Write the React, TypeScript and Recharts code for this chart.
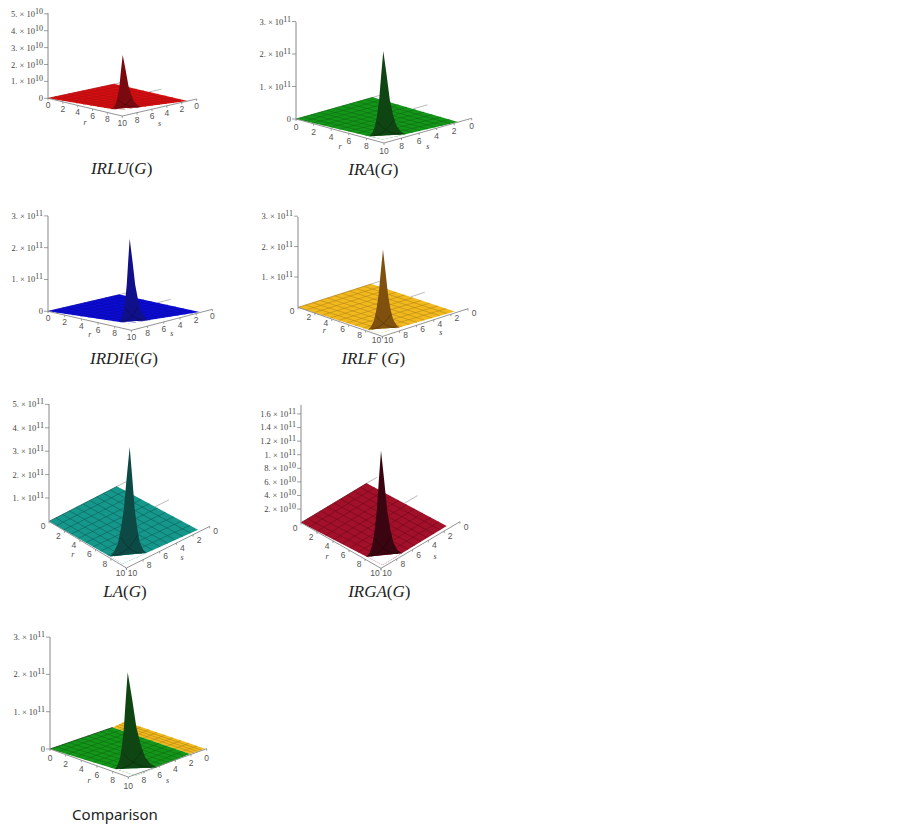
import React from 'react';
import { ComposedChart, Area, Line, XAxis, YAxis } from 'recharts';

type Pt = { x: number; y: number };

// tick labels
const rTicks = [0, 2, 4, 6, 8, 10];
const sTicksFull = [10, 8, 6, 4, 2, 0];
const sTicksShort = [8, 6, 4, 2, 0];
const irluTicks = [0, 1e10, 2e10, 3e10, 4e10, 5e10];
const threeTicks = [0, 1e11, 2e11, 3e11];
const irlfTicks = [1e11, 2e11, 3e11];
const laTicks = [1e11, 2e11, 3e11, 4e11, 5e11];
const irgaTicks = [2e10, 4e10, 6e10, 8e10, 1e11, 1.2e11, 1.4e11, 1.6e11];

// height of the surface along its front edges, from the floor up to the peak
const edgeSteps = [0, 0.2, 0.4, 0.55, 0.7, 0.85, 1];
const irluPeak = [0, 0.11e10, 0.36e10, 0.76e10, 1.32e10, 2.28e10, 3.15e10];
const iraPeak = [0, 0.09e11, 0.29e11, 0.62e11, 1.09e11, 1.87e11, 2.6e11];
const irdiePeak = [0, 0.12e11, 0.34e11, 0.68e11, 1.14e11, 1.9e11, 2.6e11];
const irlfPeak = [0, 0.09e11, 0.29e11, 0.62e11, 1.09e11, 1.87e11, 2.6e11];
const laPeak = [0, 0.16e11, 0.5e11, 1.1e11, 1.93e11, 3.3e11, 4.6e11];
const irgaPeak = [0, 0.05e11, 0.17e11, 0.37e11, 0.65e11, 1.11e11, 1.54e11];
const comparisonPeak = [0, 0.09e11, 0.29e11, 0.62e11, 1.09e11, 1.87e11, 2.58e11];
const creaseShare = [0, 0.01, 0.03, 0.05, 0.08, 0.12, 0.17];

const AXIS_W = 46;
const PLOT_W = 190;

// camera of each plot: where the floor corners land on the page
const panels: any[] = [
  {
    title: <><i>IRLU</i>(<i>G</i>)</>, titleAt: [121.6, 169],
    ticks: irluTicks, unit: 1e10, pxPerUnit: 16.9, axisX: 48.3, zeroY: 98.3, topY: 13, peak: irluPeak,
    back: [115, 84], right: [188, 101], end: [197, 99], corner: [122.5, 116], f1: [112, 109], f2: [142, 107], apexX: 123,
    fill: '#d60f12', mesh: '#b00c0e', peakFill: '#7a0a10', crease: '#4c0508',
    sTicks: sTicksShort, rOff: [0, 7], sOff: [0, 7], rName: [0, 16], sName: [0, 16],
  },
  {
    title: <><i>IRA</i>(<i>G</i>)</>, titleAt: [373.3, 170],
    ticks: threeTicks, unit: 1e11, pxPerUnit: 32.5, axisX: 296, zeroY: 118.7, topY: 21.7, peak: iraPeak,
    back: [373, 97], right: [458, 121.7], end: [471.7, 118], corner: [384, 142.7], f1: [369.3, 136], f2: [405, 134], apexX: 383.3,
    fill: '#14961a', mesh: '#0c6a10', peakFill: '#0f4512', crease: '#082a0a',
    sTicks: sTicksShort, rOff: [0, 8], sOff: [0, 8], rName: [0, 16], sName: [0, 16],
  },
  {
    title: <><i>IRDIE</i>(<i>G</i>)</>, titleAt: [124, 359],
    ticks: threeTicks, unit: 1e11, pxPerUnit: 31.8, axisX: 48.3, zeroY: 311, topY: 215.7, peak: irdiePeak,
    back: [120, 294.3], right: [200, 311.7], end: [212.7, 309], corner: [131.7, 330], f1: [120, 321.7], f2: [148.3, 320], apexX: 130,
    fill: '#0c0cd4', mesh: '#0909ae', peakFill: '#10108a', crease: '#0a0a58',
    sTicks: sTicksShort, rOff: [0, 7], sOff: [0, 7], rName: [0, 14], sName: [0, 14],
  },
  {
    title: <><i>IRLF</i> (<i>G</i>)</>, titleAt: [373.3, 359],
    ticks: irlfTicks, unit: 1e11, pxPerUnit: 30.4, axisX: 298.3, zeroY: 307.7, topY: 217.3, peak: irlfPeak,
    back: [371.7, 284.3], right: [455, 311.7], end: [468.3, 309], corner: [382.7, 336.7], f1: [368.3, 330], f2: [400, 327.7], apexX: 383.3,
    fill: '#f2b91e', mesh: '#b08414', peakFill: '#80500f', crease: '#523208',
    sTicks: sTicksFull, rOff: [-6, 4], sOff: [6, 4], rName: [-16, 9.5], sName: [15.5, 10],
  },
  {
    title: <><i>LA</i>(<i>G</i>)</>, titleAt: [125, 591.7],
    ticks: laTicks, unit: 1e11, pxPerUnit: 23.4, axisX: 49.3, zeroY: 521.7, topY: 404.3, peak: laPeak,
    back: [117.3, 486.7], right: [198.3, 530], end: [210, 526.7], corner: [126.7, 568.3], f1: [110, 556.7], f2: [146.7, 553.3], apexX: 130,
    fill: '#16978c', mesh: '#0c5c55', peakFill: '#0d4a45', crease: '#072e2a',
    sTicks: sTicksFull, rOff: [-6, 5], sOff: [6, 5], rName: [-15, 10], sName: [14, 10.5],
  },
  {
    title: <><i>IRGA</i>(<i>G</i>)</>, titleAt: [379.3, 591.7],
    ticks: irgaTicks, unit: 1e10, pxPerUnit: 6.8, axisX: 301, zeroY: 522.7, topY: 405, peak: irgaPeak,
    back: [366.7, 483.3], right: [446.7, 526], end: [460, 521.7], corner: [381, 568.3], f1: [366.7, 556.7], f2: [401.7, 553.3], apexX: 381,
    fill: '#a3102a', mesh: '#6a0a1a', peakFill: '#3a0510', crease: '#220208',
    sTicks: sTicksFull, rOff: [-6, 5], sOff: [6, 5], rName: [-14, 11.7], sName: [14.5, 11.7],
  },
  {
    title: <span style={{ fontFamily: '"Noto Sans"', fontSize: 15 }}>Comparison</span>, titleAt: [115, 814.3],
    ticks: threeTicks, unit: 1e11, pxPerUnit: 37.3, axisX: 50, zeroY: 749.3, topY: 637.3, peak: comparisonPeak,
    back: [112.7, 727.7], right: [190, 754.3], end: [206.7, 749], corner: [128.3, 777.3], f1: [115, 769.3], f2: [156.7, 767.7], apexX: 127.7,
    band: { back: [125, 721.7], right: [205, 749], fill: '#f2b91e', mesh: '#b08414' },
    fill: '#14961a', mesh: '#0c6a10', peakFill: '#0f4512', crease: '#082a0a', edge: '#0a3a0c', noStubs: true,
    sTicks: sTicksShort, rOff: [0, 9], sOff: [0, 9], rName: [0, 18], sName: [0, 18],
  },
];

const pt = (a: number[]): Pt => ({ x: a[0], y: a[1] });
const mix = (a: Pt, b: Pt, t: number): Pt => ({ x: a.x + (b.x - a.x) * t, y: a.y + (b.y - a.y) * t });

// where the line a-b meets the line c-d
const meet = (a: Pt, b: Pt, c: Pt, d: Pt): Pt => {
  const d1 = { x: b.x - a.x, y: b.y - a.y };
  const d2 = { x: d.x - c.x, y: d.y - c.y };
  const t = ((c.x - a.x) * d2.y - (c.y - a.y) * d2.x) / (d1.x * d2.y - d1.y * d2.x);
  return mix(a, b, t);
};

// upper and lower outline of a convex polygon, for a ranged Area
const outline = (poly: Pt[]) => {
  const xs = Array.from(new Set(poly.map((p) => p.x))).sort((a, b) => a - b);
  return xs.map((x) => {
    const ys: number[] = [];
    poly.forEach((p, i) => {
      const q = poly[(i + 1) % poly.length];
      if (p.x === q.x) {
        if (p.x === x) ys.push(p.y, q.y);
      } else if (x >= Math.min(p.x, q.x) && x <= Math.max(p.x, q.x)) {
        ys.push(p.y + ((x - p.x) / (q.x - p.x)) * (q.y - p.y));
      }
    });
    return { x, low: Math.max(...ys), high: Math.min(...ys) };
  });
};

const formatTick = (v: number) => {
  const exp = Math.floor(Math.log10(v) + 1e-9);
  const m = Math.round((v / Math.pow(10, exp)) * 10) / 10;
  return { mantissa: Number.isInteger(m) ? `${m}.` : `${m}`, exp };
};

const YTick = ({ x, y, payload }: any) => {
  if (payload.value === 0) {
    return <text x={x} y={y + 3} textAnchor="end" fontSize={8.5} fontFamily="Liberation Serif" fill="#444">0</text>;
  }
  const { mantissa, exp } = formatTick(payload.value);
  return (
    <text x={x} y={y + 3} textAnchor="end" fontSize={8.5} fontFamily="Liberation Serif" fill="#444">
      {`${mantissa} × 10`}
      <tspan dy={-3} fontSize={8}>{exp}</tspan>
    </text>
  );
};

const AxisMark = ({ cx, cy, payload, dx, dy }: any) => (
  <g>
    <line x1={cx} y1={cy} x2={cx} y2={cy + 2} stroke="#777" strokeWidth={0.7} />
    <text x={cx + dx} y={cy + dy + 3} textAnchor="middle" fontSize={8.5} fontFamily="Liberation Sans" fill="#555">{payload.tick}</text>
  </g>
);

const AxisName = ({ cx, cy, payload, dx, dy }: any) => (
  <text x={cx + dx} y={cy + dy + 2} textAnchor="middle" fontSize={8} fontStyle="italic" fontFamily="Liberation Serif" fill="#444">{payload.name}</text>
);

const Plot = ({ p }: { p: any }) => {
  const bottomY = p.corner[1] + 24;
  const chartTop = p.topY - 8;
  const height = bottomY - chartTop;

  const toData = (q: Pt) => ({ x: q.x - p.axisX, y: ((p.zeroY - q.y) / p.pxPerUnit) * p.unit });
  const domainTop = ((p.zeroY - chartTop) / p.pxPerUnit) * p.unit;
  const domainBottom = ((p.zeroY - bottomY) / p.pxPerUnit) * p.unit;

  const L = pt([p.axisX, p.zeroY]);
  const B = pt(p.back);
  const R = pt(p.right);
  const E = pt(p.end);
  const A = pt(p.corner);
  const F1 = pt(p.f1);
  const F2 = pt(p.f2);
  const front = meet(L, F1, R, F2);

  const fillData = (poly: Pt[]) =>
    outline(poly).map((o) => ({ x: o.x - p.axisX, band: [toData({ x: o.x, y: o.low }).y, toData({ x: o.x, y: o.high }).y] }));

  const seg = (key: string, pts: Pt[], stroke: string, width: number, zIndex: number) => (
    <Line key={key} data={pts.map(toData)} dataKey="y" stroke={stroke} strokeWidth={width} dot={false} isAnimationActive={false} zIndex={zIndex} />
  );

  const meshLines = (pre: string, a: Pt, b: Pt, c: Pt, d: Pt, rows: number, cols: number, stroke: string, zIndex: number) => {
    const out: any[] = [];
    for (let i = 1; i < rows; i++) out.push(seg(`${pre}r${i}`, [mix(a, b, i / rows), mix(d, c, i / rows)], stroke, 0.55, zIndex));
    for (let j = 1; j < cols; j++) out.push(seg(`${pre}c${j}`, [mix(b, c, j / cols), mix(a, d, j / cols)], stroke, 0.55, zIndex));
    return out;
  };

  // the two stubs of the box that stick out behind the floor
  const stubLen = Math.hypot(E.x - A.x, E.y - A.y);
  const stubDir = { x: (E.x - A.x) / stubLen, y: (E.y - A.y) / stubLen };
  const backLen = Math.hypot(R.x - B.x, R.y - B.y);
  const stub = (at: number, share: number) => {
    const s = mix(B, R, at);
    return [s, { x: s.x + stubDir.x * backLen * share, y: s.y + stubDir.y * backLen * share }];
  };

  // peak outline, built from the heights read along the two front edges
  const baseY = (x: number) => F1.y + ((x - F1.x) / (F2.x - F1.x)) * (F2.y - F1.y);
  const leftSide = edgeSteps.map((t, i) => ({ x: F1.x + (p.apexX - F1.x) * t, z: p.peak[i] }));
  const rightSide = edgeSteps.map((t, i) => ({ x: F2.x + (p.apexX - F2.x) * t, z: p.peak[i] })).reverse().slice(1);
  const peakData = [...leftSide, ...rightSide].map((q) => {
    const base = toData({ x: q.x, y: baseY(q.x) });
    return { x: base.x, band: [base.y, base.y + q.z] };
  });
  const top = p.peak[p.peak.length - 1];
  const crease = (from: number, to: number) =>
    edgeSteps.map((t, i) => {
      const x = from + (to - from) * t;
      const base = toData({ x, y: baseY(x) });
      return { x: base.x, y: base.y + creaseShare[i] * top };
    });
  const width = F2.x - F1.x;

  const rMarks = rTicks.map((t) => ({ ...toData(mix(L, A, t / 10)), tick: t }));
  const sMarks = p.sTicks.map((t: number) => ({ ...toData(mix(E, A, t / 10)), tick: t }));

  return (
    <div style={{ position: 'absolute', left: p.axisX - AXIS_W, top: chartTop }}>
      <ComposedChart width={AXIS_W + PLOT_W} height={height} margin={{ top: 0, right: 0, bottom: 0, left: 0 }}>
        <XAxis type="number" dataKey="x" domain={[0, PLOT_W]} hide />
        <YAxis
          type="number"
          width={AXIS_W}
          domain={[domainBottom, domainTop]}
          ticks={p.ticks}
          interval={0}
          axisLine={false}
          tickSize={4}
          tickMargin={1}
          tickLine={{ stroke: '#777', strokeWidth: 0.7 }}
          tick={<YTick />}
        />

        {!p.noStubs && seg('stub1', stub(0, 0.13), '#aaa', 0.8, 50)}
        {!p.noStubs && seg('stub2', stub(0.47, 0.17), '#aaa', 0.8, 50)}

        {p.band && <Area data={fillData([B, pt(p.band.back), pt(p.band.right), R])} dataKey="band" fill={p.band.fill} fillOpacity={1} stroke="none" isAnimationActive={false} zIndex={60} />}
        {p.band && meshLines('band', B, pt(p.band.back), pt(p.band.right), R, 4, 10, p.band.mesh, 70)}

        <Area data={fillData([L, B, R, front])} dataKey="band" fill={p.fill} fillOpacity={1} stroke="none" isAnimationActive={false} zIndex={100} />
        {meshLines('floor', L, B, R, front, 10, 10, p.mesh, 200)}
        {seg('edgeTop', [L, B], p.edge || p.mesh, 0.8, 200)}
        <Area data={fillData([F1, F2, front])} dataKey="band" fill="#fff" fillOpacity={1} stroke="none" isAnimationActive={false} zIndex={300} />

        <Line data={[toData(L), { x: 0, y: ((p.zeroY - p.topY) / p.pxPerUnit) * p.unit }]} dataKey="y" stroke="#888" strokeWidth={1} dot={false} isAnimationActive={false} zIndex={400} />
        <Line data={rMarks} dataKey="y" stroke="#888" strokeWidth={0.9} isAnimationActive={false} zIndex={400} dot={(d: any) => <AxisMark key={`r${d.index}`} {...d} dx={p.rOff[0]} dy={p.rOff[1]} />} />
        <Line data={[toData(E), toData(A)]} dataKey="y" stroke="#888" strokeWidth={0.9} dot={false} isAnimationActive={false} zIndex={400} />
        <Line data={sMarks} dataKey="y" stroke="none" isAnimationActive={false} zIndex={400} dot={(d: any) => <AxisMark key={`s${d.index}`} {...d} dx={p.sOff[0]} dy={p.sOff[1]} />} />
        <Line data={[{ ...toData(mix(L, A, 0.5)), name: 'r' }]} dataKey="y" stroke="none" isAnimationActive={false} zIndex={400} dot={(d: any) => <AxisName key="rn" {...d} dx={p.rName[0]} dy={p.rName[1]} />} />
        <Line data={[{ ...toData(mix(E, A, 0.5)), name: 's' }]} dataKey="y" stroke="none" isAnimationActive={false} zIndex={400} dot={(d: any) => <AxisName key="sn" {...d} dx={p.sName[0]} dy={p.sName[1]} />} />

        <Area data={peakData} dataKey="band" fill={p.peakFill} fillOpacity={1} stroke="none" isAnimationActive={false} zIndex={500} />
        <Line data={crease(F1.x + width * 0.12, p.apexX + (F2.x - p.apexX) * 0.45)} dataKey="y" stroke={p.crease} strokeWidth={0.6} dot={false} isAnimationActive={false} zIndex={600} />
        <Line data={crease(F2.x - width * 0.12, p.apexX - (p.apexX - F1.x) * 0.45)} dataKey="y" stroke={p.crease} strokeWidth={0.6} dot={false} isAnimationActive={false} zIndex={600} />
      </ComposedChart>
      <div
        style={{
          position: 'absolute',
          left: p.titleAt[0] - (p.axisX - AXIS_W) - 60,
          top: p.titleAt[1] - chartTop - 11,
          width: 120,
          height: 22,
          lineHeight: '22px',
          textAlign: 'center',
          fontFamily: '"Liberation Serif"',
          fontSize: 17,
          color: '#222',
        }}
      >
        {p.title}
      </div>
    </div>
  );
};

export default function App() {
  return (
    <div style={{ position: 'absolute', left: 0, top: 0, width: 923, height: 836 }}>
      {panels.map((p, i) => (
        <Plot key={i} p={p} />
      ))}
    </div>
  );
}
